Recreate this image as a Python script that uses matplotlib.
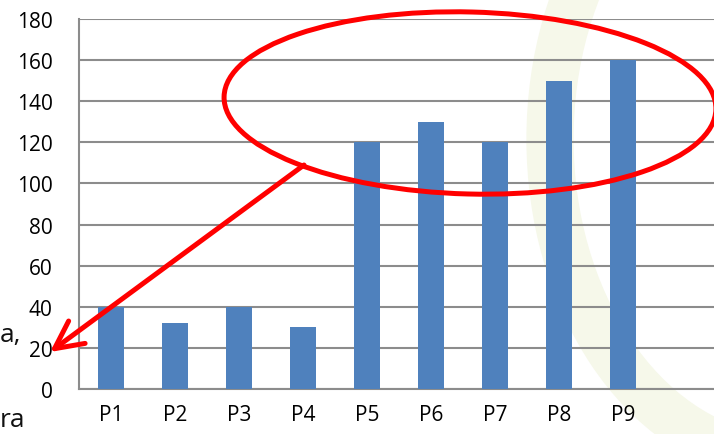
import matplotlib
matplotlib.use('Agg')
import matplotlib.pyplot as plt
from matplotlib.patches import Ellipse, FancyArrowPatch, Arc
import numpy as np

# data
labels = ["P1", "P2", "P3", "P4", "P5", "P6", "P7", "P8", "P9"]
values = [40, 32, 40, 30, 120, 130, 120, 150, 160]
yticks = [0, 20, 40, 60, 80, 100, 120, 140, 160, 180]

W, H = 714, 435
fig = plt.figure(figsize=(W / 100, H / 100), dpi=100)
fig.patch.set_facecolor("white")
plt.rcParams['font.family'] = ['Open Sans', 'DejaVu Sans']

# faint background swoosh on the right
bg = fig.add_axes([0, 0, 1, 1], zorder=0)
bg.set_xlim(0, W)
bg.set_ylim(H, 0)
bg.axis("off")
bg.add_patch(Arc((790, 140), 480, 640, angle=0, theta1=95, theta2=265,
                 lw=34, color="#f6f8ea"))
bg.add_patch(Arc((470, 560), 340, 560, angle=0, theta1=5, theta2=85,
                 lw=28, color="#f6f8ea"))

# plot area: ten slots, only nine used
ax = fig.add_axes([79 / W, 45 / H, 640 / W, 370 / H], zorder=1)
ax.patch.set_alpha(0)
x = np.arange(len(labels))
ax.bar(x, values, width=0.4, color="#4f81bd", zorder=3)
ax.set_xlim(-0.5, 9.5)
ax.set_ylim(0, 180)
ax.set_yticks(yticks)
ax.set_xticks(x)
ax.set_xticklabels(labels, fontsize=15)
ax.set_yticklabels([str(t) for t in yticks], fontsize=15)
ax.tick_params(axis="y", length=0, pad=19)
ax.tick_params(axis="x", length=0, pad=11)
ax.yaxis.grid(True, color="#8c8c8c", lw=1.5, zorder=0)
ax.set_axisbelow(True)
for s in ["top", "right"]:
    ax.spines[s].set_visible(False)
for s in ["left", "bottom"]:
    ax.spines[s].set_color("#8c8c8c")
    ax.spines[s].set_linewidth(1.5)

# overlay in pixel coordinates
ov = fig.add_axes([0, 0, 1, 1], zorder=2)
ov.set_xlim(0, W)
ov.set_ylim(H, 0)
ov.axis("off")
ov.patch.set_alpha(0)
ov.add_patch(Ellipse((470, 104), 492, 182, angle=1.5, fill=False,
                     ec="#ff0000", lw=3.6))
ov.add_patch(FancyArrowPatch((304, 166), (50, 353),
                             arrowstyle="->,head_length=20,head_width=10",
                             color="#ff0000", lw=3.6, mutation_scale=1,
                             shrinkA=0, shrinkB=0))

# slide text at the left edge
ov.text(0, 336, "a,", fontsize=19, ha="left", va="center", color="#111111")
ov.text(0, 421, "ra", fontsize=19, ha="left", va="center", color="#111111")

fig.savefig("out.png", dpi=100)
